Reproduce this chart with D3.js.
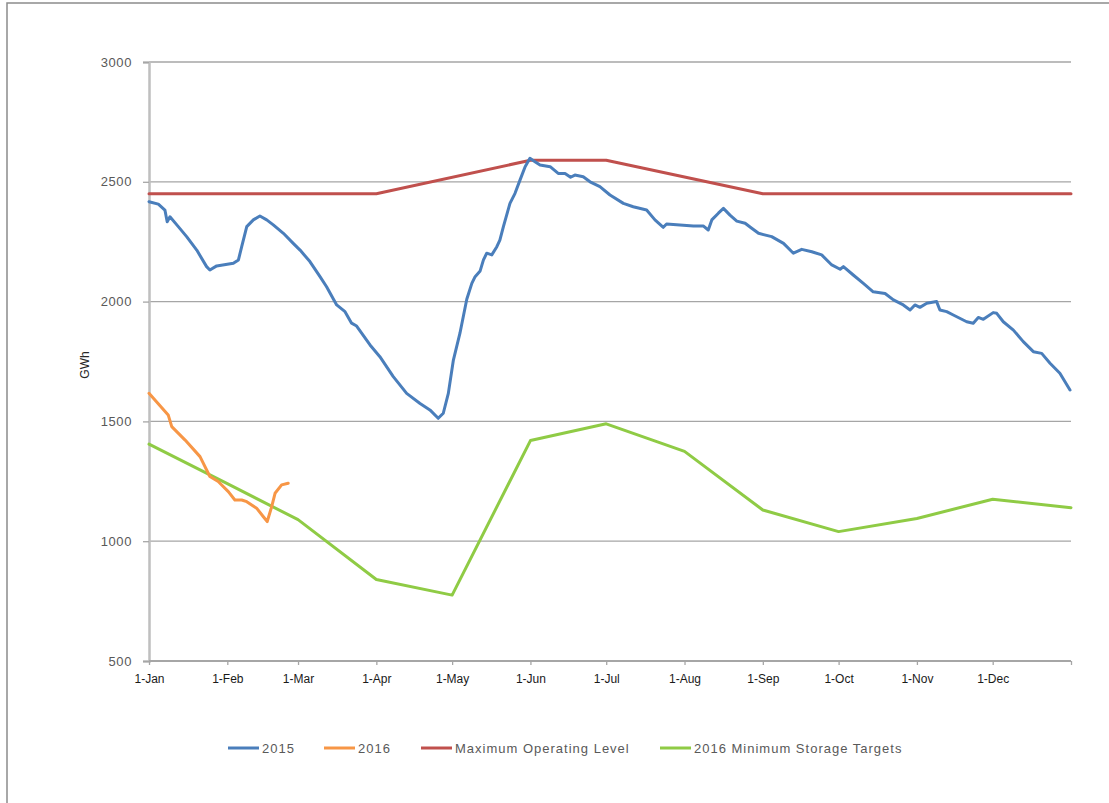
<!DOCTYPE html>
<html>
<head>
<meta charset="utf-8">
<script src="https://cdn.jsdelivr.net/npm/d3@7"></script>
<style>
  body { margin: 0; background: #fff; }
  svg { display: block; }
  text { font-family: "Liberation Sans", Arial, sans-serif; }
</style>
</head>
<body>
<svg id="chart" width="1109" height="803"></svg>
<script>
// ---- data (x = day of year, 0 = 1-Jan) ----
const monthStarts = [0, 31, 59, 90, 120, 151, 181, 212, 243, 273, 304, 334];
const monthLabels = ["1-Jan","1-Feb","1-Mar","1-Apr","1-May","1-Jun","1-Jul","1-Aug","1-Sep","1-Oct","1-Nov","1-Dec"];
const yTicks = [500, 1000, 1500, 2000, 2500, 3000];

const days2015 = [0,3.7,6.3,7.2,8.3,11.6,14.9,18.9,22.8,24.1,26.8,33.4,35.4,36.7,38.7,41.3,43.9,46.6,49.2,53.2,57.1,59.8,63.7,67.7,70.3,74.3,77.6,80.2,82.2,87.5,91.4,96.7,102,107.3,111.2,114.5,116.5,118.5,120.5,123.1,125.8,127.8,129.1,131.1,132.4,133.7,135.7,137.7,138.9,140.3,142.9,144.9,146.9,148.9,150.8,152.8,154.8,158.8,162,164.7,166.9,168.6,171.9,174.6,178.5,182.5,187.8,191.7,197,200.3,203.6,204.9,210.2,215.5,219.4,221.4,222.8,225.4,227.4,230,232.7,236,238.6,241.3,246.5,251.2,255.1,258.4,262.4,266.3,270.3,273.6,274.9,278.8,282.8,286.7,291.4,294.7,298.6,301.3,303.2,305.2,307.9,311.8,313.1,315.8,318.4,323.7,326.3,328.3,330.3,334.2,335.6,338.2,342.2,346.1,350.1,353.4,356.7,360.6,364.6];
const gwh2015 = [2417,2407,2382,2333,2354,2313,2271,2215,2146,2132,2149,2160,2174,2229,2313,2341,2357,2341,2320,2285,2243,2215,2167,2104,2062,1986,1958,1910,1898,1819,1770,1687,1617,1575,1548,1513,1534,1617,1756,1868,2010,2076,2104,2128,2174,2202,2195,2229,2257,2313,2410,2452,2508,2563,2598,2584,2570,2563,2535,2535,2519,2528,2521,2500,2480,2445,2410,2396,2382,2341,2310,2324,2320,2316,2316,2299,2341,2369,2389,2361,2336,2327,2306,2285,2271,2243,2202,2218,2208,2195,2153,2135,2146,2111,2076,2041,2034,2007,1986,1965,1986,1976,1993,2000,1965,1958,1944,1916,1910,1934,1926,1954,1951,1916,1881,1833,1791,1784,1743,1701,1631];

const days2016 = [0,7.6,9,14.3,20.2,24.1,27.4,31.4,34,36.7,38.7,42.6,45.2,46.8,48.6,49.9,52.5,55.1];
const gwh2016 = [1617,1527,1478,1422,1353,1270,1249,1207,1172,1172,1165,1138,1103,1082,1145,1200,1235,1242];

const daysMaxLevel = [0, 90, 151, 181, 243, 365];
const gwhMaxLevel = [2450, 2450, 2590, 2590, 2450, 2450];

const daysMinTarget = [0, 31, 59, 90, 120, 151, 181, 212, 243, 273, 304, 334, 365];
const gwhMinTarget = [1405, 1240, 1090, 840, 775, 1420, 1490, 1375, 1130, 1040, 1095, 1175, 1140];

const seriesNames = ["2015", "2016", "Maximum Operating Level", "2016 Minimum Storage Targets"];
const seriesColors = ["#4a7ebb", "#f79646", "#c0504d", "#8fcb45"];

// ---- layout ----
const svg = d3.select("#chart");
const plotLeft = 149, plotRight = 1071, plotTop = 62, plotBottom = 661;

svg.append("rect").attr("x", 7).attr("y", 3).attr("width", 1120).attr("height", 820)
  .attr("fill", "none").attr("stroke", "#8c8c8c").attr("stroke-width", 1.5);

const x = d3.scaleLinear().domain([0, 365]).range([plotLeft, plotRight]);
const y = d3.scaleLinear().domain([500, 3000]).range([plotBottom, plotTop]);

// gridlines
svg.append("g").selectAll("line").data(yTicks.filter(v => v > 500)).join("line")
  .attr("x1", plotLeft).attr("x2", plotRight)
  .attr("y1", d => y(d)).attr("y2", d => y(d))
  .attr("stroke", "#a6a6a6").attr("stroke-width", 1.3);

// y axis
const yAxis = svg.append("g").attr("transform", `translate(${plotLeft},0)`)
  .call(d3.axisLeft(y).tickValues(yTicks).tickFormat(d3.format("d")).tickSize(6).tickPadding(11));
yAxis.select(".domain").attr("stroke", "#bfbfbf").attr("stroke-width", 2.5);
yAxis.selectAll(".tick line").attr("stroke", "#a6a6a6").attr("stroke-width", 1.3);
yAxis.selectAll(".tick text").attr("fill", "#595959").attr("font-size", 13)
  .attr("font-family", "Liberation Sans, Arial, sans-serif").attr("letter-spacing", "0.6px");

// x axis
const xAxis = svg.append("g").attr("transform", `translate(0,${plotBottom})`)
  .call(d3.axisBottom(x).tickValues(monthStarts.concat([365]))
    .tickFormat((d, i) => i < monthLabels.length ? monthLabels[i] : "")
    .tickSize(4).tickPadding(9));
xAxis.select(".domain").attr("stroke", "#a6a6a6").attr("stroke-width", 1.8)
  .attr("d", `M${plotLeft},0H${plotRight}`);
xAxis.selectAll(".tick line").attr("stroke", "#a6a6a6").attr("stroke-width", 1.3);
xAxis.selectAll(".tick text").attr("fill", "#1a1a1a").attr("font-size", 12)
  .attr("font-family", "Liberation Sans Narrow, Liberation Sans, Arial, sans-serif");

// axis title
svg.append("text").attr("transform", "translate(89,365) rotate(-90)")
  .attr("text-anchor", "middle").attr("font-size", 12).attr("fill", "#262626").text("GWh");

// lines
const line = d3.line().x(d => x(d[0])).y(d => y(d[1]));
const seriesData = [
  d3.zip(days2015, gwh2015),
  d3.zip(days2016, gwh2016),
  d3.zip(daysMaxLevel, gwhMaxLevel),
  d3.zip(daysMinTarget, gwhMinTarget)
];
const drawOrder = [3, 2, 0, 1];
drawOrder.forEach(i => {
  svg.append("path").datum(seriesData[i]).attr("d", line)
    .attr("fill", "none").attr("stroke", seriesColors[i]).attr("stroke-width", 3)
    .attr("stroke-linejoin", "round").attr("stroke-linecap", "round");
});

// legend
const legendX = [228, 324, 421, 660];
const legend = svg.append("g");
seriesNames.forEach((name, i) => {
  legend.append("line").attr("x1", legendX[i]).attr("x2", legendX[i] + 31)
    .attr("y1", 748).attr("y2", 748).attr("stroke", seriesColors[i]).attr("stroke-width", 3);
  legend.append("text").attr("x", legendX[i] + 34).attr("y", 752.5)
    .attr("font-size", 13).attr("letter-spacing", "1px").attr("fill", "#595959").text(name);
});
</script>
</body>
</html>
